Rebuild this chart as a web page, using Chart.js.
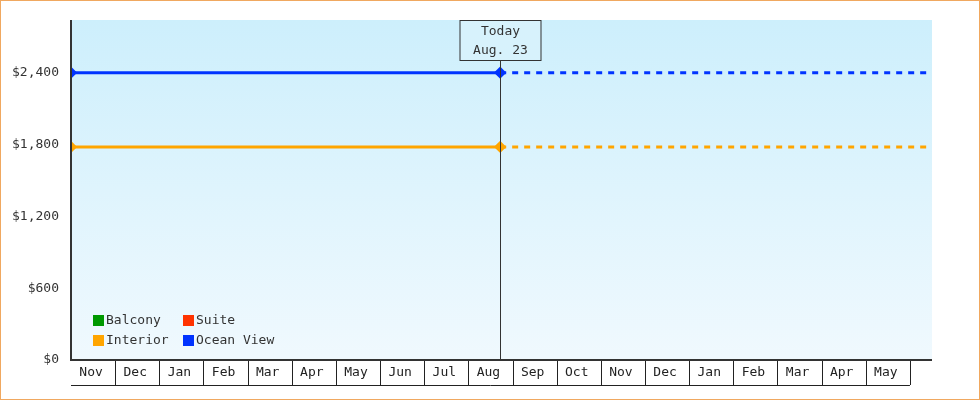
<!DOCTYPE html>
<html><head><meta charset="utf-8">
<script src="https://cdn.jsdelivr.net/npm/chart.js@4"></script>
<style>
html,body{margin:0;padding:0;background:#fff}
#wrap{width:980px;height:400px;box-sizing:border-box;border:1px solid #f0a860;position:relative}
canvas{display:block}
</style></head><body>
<div id="wrap"><canvas id="c" width="978" height="398"></canvas></div>
<script>
const months = ["Nov","Dec","Jan","Feb","Mar","Apr","May","Jun","Jul","Aug","Sep","Oct","Nov","Dec","Jan","Feb","Mar","Apr","May"];
const seriesNames = ["Balcony","Suite","Interior","Ocean View"];
const seriesColors = ["#009900","#ff3300","#ffa500","#0033ff"];
const todayPos = 9.72;   // Aug 23, in months from first Nov
const endPos = 19.5;
const yTicks = [0,600,1200,1800,2400];
const balcony = [];
const suite = [];
const interior = [1780,1780,1780];
const oceanView = [2400,2400,2400];
const xPositions = [0,todayPos,endPos];
const FONT = "DejaVu Sans Mono";

function mk(name, vals, color){
  return {label:name, data: vals.map((v,i)=>({x:xPositions[i],y:v})), borderColor:color, backgroundColor:color,
    borderWidth:3, pointRadius: vals.map((v,i)=> i<2?4:0), pointStyle:'rectRot', pointHoverRadius:0,
    segment:{borderDash: ctx => ctx.p0DataIndex>=1 ? [6,6] : undefined}};
}
const plug = {
  id:'deco',
  beforeDraw(chart){
    const {ctx, chartArea:a} = chart;
    const g = ctx.createLinearGradient(0,a.top,0,a.bottom);
    g.addColorStop(0,'#cdeffc'); g.addColorStop(1,'#f0f9fe');
    ctx.fillStyle=g; ctx.fillRect(a.left,a.top,a.right-a.left,a.bottom-a.top);
  },
  afterDatasetsDraw(chart){
    const {ctx, chartArea:a, scales:{x,y}} = chart;
    ctx.save();
    ctx.font = "13px '"+FONT+"'"; ctx.textBaseline='middle';
    // today line + box
    const tx = Math.round(x.getPixelForValue(todayPos))+0.5;
    ctx.strokeStyle='#333'; ctx.lineWidth=1;
    ctx.beginPath(); ctx.moveTo(tx,a.top+40); ctx.lineTo(tx,a.bottom); ctx.stroke();
    ctx.fillStyle='rgba(215,242,252,1)';
    ctx.fillRect(tx-40,a.top,80,40); ctx.strokeRect(tx-40.5,a.top+0.5,81,40);
    ctx.fillStyle='#333'; ctx.textAlign='center';
    ctx.fillText('Today',tx,a.top+12); ctx.fillText('Aug. 23',tx,a.top+31);
    // x labels boxes
    ctx.strokeStyle='#222';
    const bt=a.bottom, bb=a.bottom+25;
    ctx.beginPath(); ctx.moveTo(a.left,bb+0.5); ctx.lineTo(x.getPixelForValue(months.length),bb+0.5); ctx.stroke();
    months.forEach((m,i)=>{
      const x1 = Math.round(x.getPixelForValue(i+1))+0.5;
      ctx.beginPath(); ctx.moveTo(x1,bt); ctx.lineTo(x1,bb); ctx.stroke();
      ctx.fillStyle='#222';
      ctx.fillText(m, x.getPixelForValue(i+0.5)-2, bt+13);
    });
    // axes
    ctx.strokeStyle='#333'; ctx.lineWidth=2;
    ctx.beginPath(); ctx.moveTo(a.left,a.top); ctx.lineTo(a.left,a.bottom); ctx.lineTo(a.right,a.bottom); ctx.stroke();
    // legend
    ctx.textAlign='left';
    seriesNames.forEach((n,i)=>{
      const lx = a.left+22 + (i%2)*90, ly = a.bottom-40 + Math.floor(i/2)*20;
      ctx.fillStyle=seriesColors[i]; ctx.fillRect(lx,ly-5,11,11);
      ctx.fillStyle='#333'; ctx.fillText(n,lx+13,ly+1);
    });
    ctx.restore();
  }
};
new Chart(document.getElementById('c'),{
  type:'line',
  data:{datasets:[mk(seriesNames[0],balcony,seriesColors[0]),mk(seriesNames[1],suite,seriesColors[1]),
    mk(seriesNames[2],interior,seriesColors[2]),mk(seriesNames[3],oceanView,seriesColors[3])]},
  options:{responsive:false,animation:false,
    layout:{padding:{top:19,right:47,bottom:39,left:0}},
    plugins:{legend:{display:false},tooltip:{enabled:false}},
    scales:{
      x:{type:'linear',min:0,max:endPos,display:false},
      y:{min:0,max:2840,grid:{display:false,drawTicks:true},border:{display:false},
        afterBuildTicks(s){s.ticks=yTicks.map(v=>({value:v}));},
        afterFit(s){s.width=70;},
        ticks:{color:'#333',font:{family:FONT,size:13},padding:4,callback:v=>'$'+v.toLocaleString('en-US')}}
    }},
  plugins:[plug]
});
</script></body></html>
